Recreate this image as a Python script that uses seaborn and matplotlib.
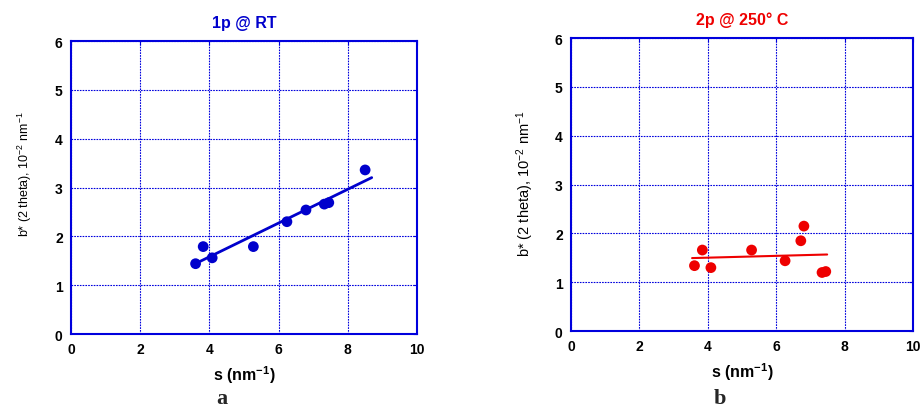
import numpy as np
import pandas as pd
import matplotlib
matplotlib.use('Agg')
import matplotlib.pyplot as plt
import seaborn as sns

# data
s_a = [3.60, 3.82, 4.08, 5.27, 6.24, 6.79, 7.32, 7.45, 8.50]
b_a = [1.44, 1.79, 1.56, 1.79, 2.30, 2.54, 2.66, 2.69, 3.36]
fit_range_a = [3.73, 8.69]

s_b = [3.61, 3.84, 4.09, 5.28, 6.26, 6.72, 6.81, 7.34, 7.45]
b_b = [1.34, 1.66, 1.30, 1.66, 1.44, 1.85, 2.15, 1.20, 1.22]
fit_range_b = [3.54, 7.49]

titles = ['1p @ RT', '2p @ 250\u00b0 C']
letters = ['a', 'b']
colors = ['#0000cc', '#ee0000']

sns.set_style('white')
plt.rcParams['font.family'] = ['Liberation Sans', 'DejaVu Sans']
plt.rcParams['mathtext.default'] = 'regular'

fig = plt.figure(figsize=(9.21, 4.10), dpi=100)
ax_a = fig.add_axes([0.0771, 0.1829, 0.3757, 0.7146])
ax_b = fig.add_axes([0.620, 0.190, 0.3713, 0.7146])

panels = [(ax_a, s_a, b_a, fit_range_a), (ax_b, s_b, b_b, fit_range_b)]
ylab_size = [9.0, 10.5]
ylab_pos = [(-0.107, 0.55), (-0.103, 0.505)]
for i, (ax, s, b, rng) in enumerate(panels):
    df = pd.DataFrame({'s': s, 'b': b})
    k, c = np.polyfit(df['s'], df['b'], 1)
    fit = pd.DataFrame({'s': rng, 'b': [k * x + c for x in rng]})
    sns.lineplot(data=fit, x='s', y='b', ax=ax, color=colors[i],
                 lw=2.0 if i == 0 else 1.5, zorder=3)
    sns.scatterplot(data=df, x='s', y='b', ax=ax, color=colors[i], s=60,
                    edgecolor='none', zorder=4)

    ax.set_xlim(0, 10)
    ax.set_ylim(0, 6)
    ax.set_xticks(range(0, 11, 2))
    ax.set_yticks(range(0, 7))
    ax.grid(True, color='#0000dd', linestyle=(0, (1.5, 1.0)), linewidth=0.8)
    for sp in ax.spines.values():
        sp.set_color('#0000dd')
        sp.set_linewidth(1.5)
    ax.tick_params(direction='in', length=3, color='#0000dd', top=True,
                   right=True, labelsize=10, pad=6, labelcolor='black')
    for lab in ax.get_xticklabels() + ax.get_yticklabels():
        lab.set_fontweight('bold')
    ax.set_title(titles[i], color=colors[i], fontsize=11.5, fontweight='bold', pad=10)
    ax.set_xlabel('s (nm$^{-1}$)', fontsize=11.5, fontweight='bold',
                  labelpad=5, color='black')
    ax.set_ylabel('b* (2 theta), 10$^{-2}$ nm$^{-1}$', fontsize=ylab_size[i],
                  color='black')
    ax.yaxis.set_label_coords(*ylab_pos[i])

fig.text(0.241, 0.014, letters[0], fontsize=16, fontweight='bold',
         family='Liberation Serif', ha='center', va='baseline')
fig.text(0.782, 0.014, letters[1], fontsize=16, fontweight='bold',
         family='Liberation Serif', ha='center', va='baseline')

fig.savefig('out.png', dpi=100)
